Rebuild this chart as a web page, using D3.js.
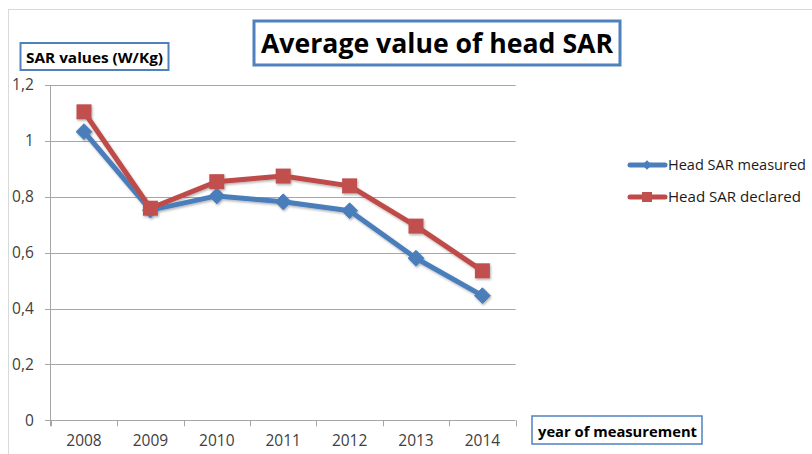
<!DOCTYPE html>
<html>
<head>
<meta charset="utf-8">
<script src="https://cdn.jsdelivr.net/npm/d3@7"></script>
<style>
  html, body { margin: 0; padding: 0; background: #fff; }
  svg { display: block; font-family: "Open Sans", "Noto Sans", sans-serif; }
</style>
</head>
<body>
<svg id="chart" width="812" height="454"></svg>
<script>
const years = ["2008", "2009", "2010", "2011", "2012", "2013", "2014"];
const measured = [1.033, 0.752, 0.803, 0.782, 0.750, 0.580, 0.446];
const declared = [1.104, 0.759, 0.854, 0.874, 0.839, 0.695, 0.535];
const yTicks = [0, 0.2, 0.4, 0.6, 0.8, 1, 1.2];
const yTickLabels = ["0", "0,2", "0,4", "0,6", "0,8", "1", "1,2"];
const seriesNames = ["Head SAR measured", "Head SAR declared"];
const titleText = "Average value of head SAR";
const yAxisTitle = "SAR values (W/Kg)";
const xAxisTitle = "year of measurement";

const svg = d3.select("#chart");
const W = 812, H = 454;
const blue = "#4A7EBB", red = "#BE4B48";
const gridCol = "#a6a6a6";

svg.append("rect").attr("width", W).attr("height", H).attr("fill", "#fff");
// outer chart area border
svg.append("rect").attr("x", 8.5).attr("y", 9.5).attr("width", 900).attr("height", 600)
  .attr("fill", "none").attr("stroke", "#d9d9d9").attr("stroke-width", 1);

const x = d3.scaleBand().domain(years).range([50.8, 515.6]).padding(0);
const y = d3.scaleLinear().domain([0, 1.2]).range([420.3, 85]);

// shadow filter
const defs = svg.append("defs");
const f = defs.append("filter").attr("id", "sh").attr("x", "-20%").attr("y", "-20%").attr("width", "140%").attr("height", "140%");
f.append("feDropShadow").attr("dx", 1).attr("dy", 1.5).attr("stdDeviation", 1.2).attr("flood-color", "#000").attr("flood-opacity", 0.3);

// gridlines
svg.append("g").selectAll("line").data(yTicks).join("line")
  .attr("x1", 45).attr("x2", 515.6)
  .attr("y1", d => Math.round(y(d)) + 0.5).attr("y2", d => Math.round(y(d)) + 0.5)
  .attr("stroke", gridCol).attr("stroke-width", 1);

// y axis
const yAxis = d3.axisLeft(y).tickValues(yTicks).tickFormat((d, i) => yTickLabels[i]).tickSize(0).tickPadding(17);
const gy = svg.append("g").attr("transform", "translate(50.8,0)").call(yAxis);
gy.select(".domain").remove();
gy.selectAll("text").attr("font-size", 15.5).attr("fill", "#404040").attr("font-family", "Open Sans");
svg.append("line").attr("x1", 50.5).attr("x2", 50.5).attr("y1", y(1.2)).attr("y2", y(0) + 6)
  .attr("stroke", gridCol);

// x axis
const xAxis = d3.axisBottom(x).tickSize(0).tickPadding(15);
const gx = svg.append("g").attr("transform", `translate(0,${y(0)})`).call(xAxis);
gx.select(".domain").remove();
gx.selectAll("text").attr("font-size", 15.5).attr("fill", "#404040").attr("font-family", "Open Sans");
const bounds = years.map(d => x(d)).concat([x(years[years.length - 1]) + x.bandwidth()]);
svg.append("g").selectAll("line").data(bounds).join("line")
  .attr("x1", d => Math.round(d) + 0.5).attr("x2", d => Math.round(d) + 0.5)
  .attr("y1", y(0)).attr("y2", y(0) + 6).attr("stroke", gridCol);

const cx = d => x(d) + x.bandwidth() / 2;
const line = d3.line().x(d => cx(d.year)).y(d => y(d.v));

const sMeasured = years.map((yr, i) => ({ year: yr, v: measured[i] }));
const sDeclared = years.map((yr, i) => ({ year: yr, v: declared[i] }));

const gPlot = svg.append("g").attr("filter", "url(#sh)");
// measured
gPlot.append("path").datum(sMeasured).attr("d", line).attr("fill", "none")
  .attr("stroke", blue).attr("stroke-width", 5).attr("stroke-linejoin", "round").attr("stroke-linecap", "round");
gPlot.append("g").selectAll("path").data(sMeasured).join("path")
  .attr("d", d3.symbol(d3.symbolDiamond2, 160)())
  .attr("transform", d => `translate(${cx(d.year)},${y(d.v)})`)
  .attr("fill", blue).attr("stroke", blue).attr("stroke-width", 1);
// declared
gPlot.append("path").datum(sDeclared).attr("d", line).attr("fill", "none")
  .attr("stroke", red).attr("stroke-width", 5).attr("stroke-linejoin", "round").attr("stroke-linecap", "round");
gPlot.append("g").selectAll("rect").data(sDeclared).join("rect")
  .attr("x", d => cx(d.year) - 7.5).attr("y", d => y(d.v) - 7.5)
  .attr("width", 15).attr("height", 15).attr("fill", "#C0504D");

// title box
svg.append("rect").attr("x", 254).attr("y", 21).attr("width", 366).attr("height", 44)
  .attr("fill", "#fff").attr("stroke", "#4F81BD").attr("stroke-width", 3);
svg.append("text").attr("x", 261).attr("y", 52.7).text(titleText)
  .attr("font-size", 26).attr("font-weight", "bold").attr("fill", "#000")
  .attr("textLength", 352).attr("lengthAdjust", "spacingAndGlyphs");

// y axis title box
svg.append("rect").attr("x", 20.5).attr("y", 43).attr("width", 148).attr("height", 27)
  .attr("fill", "#fff").attr("stroke", "#4F81BD").attr("stroke-width", 2);
svg.append("text").attr("x", 26).attr("y", 63).text(yAxisTitle)
  .attr("font-size", 15).attr("font-weight", "bold").attr("fill", "#000")
  .attr("textLength", 137).attr("lengthAdjust", "spacingAndGlyphs");

// x axis title box
svg.append("rect").attr("x", 532).attr("y", 416).attr("width", 170).attr("height", 28)
  .attr("fill", "#fff").attr("stroke", "#4F81BD").attr("stroke-width", 1.5);
svg.append("text").attr("x", 538).attr("y", 436.5).text(xAxisTitle)
  .attr("font-size", 15).attr("font-weight", "bold").attr("fill", "#000")
  .attr("textLength", 159).attr("lengthAdjust", "spacingAndGlyphs");

// legend
const legY = [165, 197];
const legend = svg.append("g");
seriesNames.forEach((name, i) => {
  const col = i === 0 ? blue : red;
  legend.append("line").attr("x1", 630).attr("x2", 665).attr("y1", legY[i]).attr("y2", legY[i])
    .attr("stroke", col).attr("stroke-width", 5).attr("stroke-linecap", "round");
  if (i === 0) {
    legend.append("path").attr("d", d3.symbol(d3.symbolDiamond2, 60)())
      .attr("transform", `translate(647,${legY[i]})`).attr("fill", col);
  } else {
    legend.append("rect").attr("x", 642).attr("y", legY[i] - 5).attr("width", 10).attr("height", 10).attr("fill", "#C0504D");
  }
  legend.append("text").attr("x", 668).attr("y", legY[i]).attr("dy", "0.35em").text(name)
    .attr("font-size", 14.5).attr("fill", "#1a1a1a")
    .attr("textLength", i === 0 ? 138 : 133).attr("lengthAdjust", "spacingAndGlyphs");
});
</script>
</body>
</html>
